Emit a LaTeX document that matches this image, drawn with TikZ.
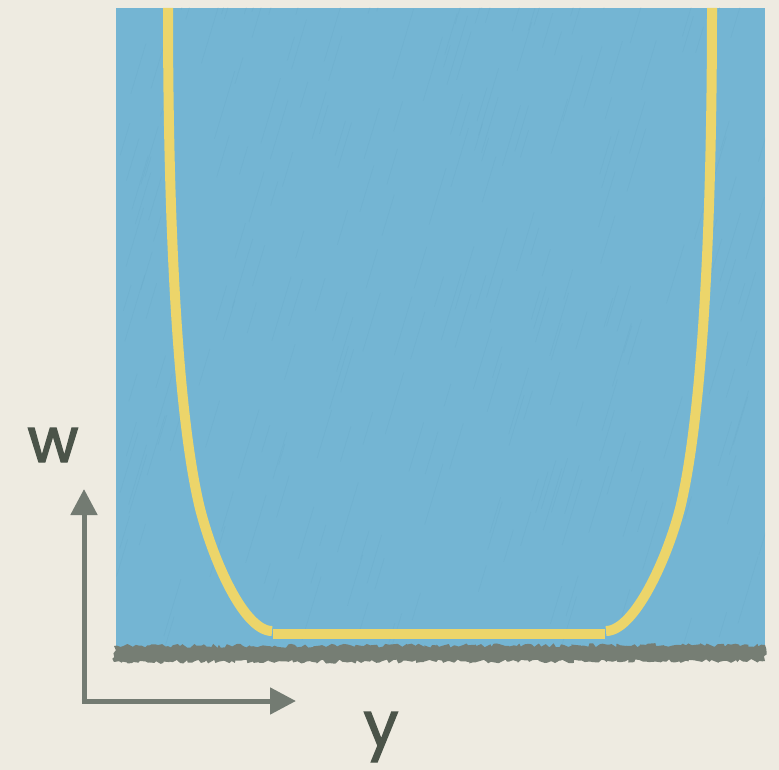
\documentclass[tikz,border=0pt]{standalone}
\usepackage{fontspec}
\setmainfont{Poppins}
\newfontfamily\labfont{Poppins}[FakeBold=2.2]
\usetikzlibrary{arrows.meta,decorations.pathmorphing}
\definecolor{paper}{HTML}{EEEBE1}
\definecolor{pool}{HTML}{74B5D3}
\definecolor{streak}{HTML}{4F8FB0}
\definecolor{curve}{HTML}{ECD56A}
\definecolor{ground}{HTML}{767E74}
\definecolor{axiscol}{HTML}{737B72}
\definecolor{labelcol}{HTML}{4B5449}
\tikzset{
  axisline/.style={draw=axiscol, line width=5pt, -{Triangle[length=26pt,width=26pt]}},
  wellcurve/.style={draw=curve, line width=10pt},
  axislabel/.style={text=labelcol, font=\labfont\fontsize{62}{62}\selectfont, inner sep=0pt},
}
\begin{document}
\begin{tikzpicture}[x=1pt,y=-1pt]
\useasboundingbox (0,0) rectangle (779,770);
\fill[paper] (0,0) rectangle (779,770);
% blue region
\fill[pool] (116,8) rectangle (765,650);
% faint streaks
\pgfmathsetseed{11}
\begin{scope}
\clip (116,8) rectangle (765,650);
\foreach \i in {1,...,260}{
  \pgfmathsetmacro{\sx}{116+rnd*660}
  \pgfmathsetmacro{\sy}{8+rnd*650}
  \pgfmathsetmacro{\sl}{20+rnd*50}
  \draw[streak, opacity=0.10, line width=0.7pt] (\sx,\sy) -- ++(0.3*\sl,-\sl);
}
\end{scope}
% rough ground band
\pgfmathsetseed{7}
\fill[ground, decorate, decoration={random steps, segment length=3pt, amplitude=2pt}]
  (114,646) -- (765,645) -- (765,661) -- (114,662) -- cycle;
% yellow curve
\draw[wellcurve, line cap=butt] (168,8) .. controls (168,208) and (176,400) .. (198,500)
  .. controls (209,550) and (242,631) .. (272,631);
\draw[wellcurve, line cap=butt] (712,8) .. controls (712,208) and (704,400) .. (682,500)
  .. controls (671,550) and (636,631) .. (606,631);
\draw[wellcurve] (273,634) -- (605,634);
% axes
\coordinate (O) at (84,701);
\coordinate (wtip) at (84,489);
\coordinate (ytip) at (296,701);
\draw[axisline] ([yshift=-2.5pt]O) -- (wtip);
\draw[axisline] ([xshift=-2.5pt]O) -- (ytip);
\node[axislabel, anchor=base] (wlab) at (53,462) {w};
\node[axislabel, anchor=base] (ylab) at (381,746) {y};
\end{tikzpicture}
\end{document}
